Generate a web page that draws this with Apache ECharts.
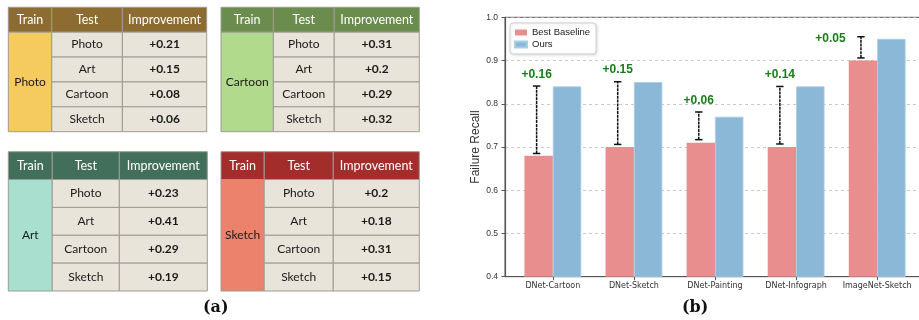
<!DOCTYPE html>
<html>
<head>
<meta charset="utf-8">
<script src="https://cdn.jsdelivr.net/npm/echarts@6/dist/echarts.min.js"></script>
<style>
  html, body { margin: 0; padding: 0; background: #fff; }
  #main { width: 919px; height: 320px; }
</style>
</head>
<body>
<div id="main"></div>
<script>
// (a) Improvement per train / test domain pair
const trainDomains = ['Photo', 'Cartoon', 'Art', 'Sketch'];
const testDomains = ['Photo', 'Art', 'Cartoon', 'Sketch'];
const tableHeaders = ['Train', 'Test', 'Improvement'];
const photoGain = [0.21, 0.15, 0.08, 0.06];
const cartoonGain = [0.31, 0.2, 0.29, 0.32];
const artGain = [0.23, 0.41, 0.29, 0.19];
const sketchGain = [0.2, 0.18, 0.31, 0.15];

// (b) Failure recall per benchmark
const benchmarks = ['DNet-Cartoon', 'DNet-Sketch', 'DNet-Painting', 'DNet-Infograph', 'ImageNet-Sketch'];
const methods = ['Best Baseline', 'Ours'];
const baselineRecall = [0.68, 0.70, 0.71, 0.70, 0.90];
const oursRecall = [0.84, 0.85, 0.77, 0.84, 0.95];
const rangeLow = [0.685, 0.706, 0.717, 0.707, 0.906];
const rangeHigh = [0.841, 0.851, 0.781, 0.840, 0.955];

// Table placement and palette
const tableLayouts = [
  { gain: photoGain,   left: 8.3, top: 7.3,   width: 198.4, height: 124.4, cols: [0, 0.219, 0.575, 1], head: '#8C6C31', train: '#F5CB5F' },
  { gain: cartoonGain, left: 221, top: 7.3,   width: 198.3, height: 124.4, cols: [0, 0.264, 0.571, 1], head: '#6A8D4E', train: '#B2DA8D' },
  { gain: artGain,     left: 8.3, top: 151.7, width: 199,   height: 139.3, cols: [0, 0.221, 0.558, 1], head: '#416F5B', train: '#A9DFCF' },
  { gain: sketchGain,  left: 221, top: 151.7, width: 198.3, height: 139.3, cols: [0, 0.218, 0.566, 1], head: '#A32D2B', train: '#EC816C' }
];
const cellFill = '#E9E4DA';
const cellStroke = '#9E9A93';
const tableFont = 'Lato, "Open Sans", sans-serif';

const grids = [], xAxes = [], yAxes = [], series = [];

tableLayouts.forEach((t, i) => {
  grids.push({ left: t.left, top: t.top, width: t.width, height: t.height, outerBoundsMode: 'none' });
  xAxes.push({ type: 'value', gridIndex: i, min: 0, max: 1, show: false });
  yAxes.push({ type: 'value', gridIndex: i, min: 0, max: 5, inverse: true, show: false });

  const cells = [];
  tableHeaders.forEach((h, c) => cells.push({ col: c, row: 0, span: 1, kind: 'head', text: h }));
  cells.push({ col: 0, row: 1, span: 4, kind: 'train', text: trainDomains[i] });
  testDomains.forEach((d, r) => {
    cells.push({ col: 1, row: r + 1, span: 1, kind: 'body', text: d });
    cells.push({ col: 2, row: r + 1, span: 1, kind: 'gain', text: '+' + t.gain[r] });
  });

  series.push({
    type: 'custom',
    xAxisIndex: i,
    yAxisIndex: i,
    silent: true,
    data: cells.map(c => [t.cols[c.col], c.row]),
    renderItem(params, api) {
      const c = cells[params.dataIndex];
      const a = api.coord([t.cols[c.col], c.row]);
      const b = api.coord([t.cols[c.col + 1], c.row + c.span]);
      const fill = c.kind === 'head' ? t.head : (c.kind === 'train' ? t.train : cellFill);
      const isHead = c.kind === 'head';
      return {
        type: 'group',
        children: [
          {
            type: 'rect',
            shape: { x: a[0], y: a[1], width: b[0] - a[0], height: b[1] - a[1] },
            style: { fill: fill, stroke: cellStroke, lineWidth: 1 }
          },
          {
            type: 'text',
            style: {
              text: c.text,
              x: (a[0] + b[0]) / 2,
              y: (a[1] + b[1]) / 2,
              align: 'center',
              verticalAlign: 'middle',
              fill: isHead ? '#ffffff' : '#1a1a1a',
              font: (c.kind === 'gain' ? 'bold ' : '') + (isHead ? '12.5px ' : '12px ') + tableFont
            }
          }
        ]
      };
    }
  });
});

// Bar chart panel
const g = tableLayouts.length;
const positions = benchmarks.map((_, i) => i);
const axisGray = '#555555';

grids.push({
  left: 505, top: 17.3, width: 420, height: 259.4,
  show: true, borderColor: axisGray, borderWidth: 1, backgroundColor: 'transparent',
  outerBoundsMode: 'none'
});
xAxes.push({
  type: 'value', gridIndex: g, min: -0.59, max: 4.59,
  splitLine: { show: false },
  axisLine: { show: true, onZero: false, lineStyle: { color: axisGray, width: 1.2 } },
  axisTick: { show: true, customValues: positions, length: 3.5, lineStyle: { color: axisGray } },
  axisLabel: {
    customValues: positions,
    formatter: v => benchmarks[Math.round(v)],
    fontFamily: '"DejaVu Sans", sans-serif', fontSize: 8, color: '#333', margin: 5
  }
});
yAxes.push({
  type: 'value', gridIndex: g, min: 0.4, max: 1.0, interval: 0.1,
  name: 'Failure Recall', nameLocation: 'middle', nameGap: 23,
  nameTextStyle: { fontFamily: '"Liberation Sans", Arial, sans-serif', fontSize: 12, color: '#333' },
  axisLine: { show: true, onZero: false, lineStyle: { color: axisGray, width: 1.2 } },
  axisTick: { show: true, length: 3.5, lineStyle: { color: axisGray } },
  axisLabel: {
    formatter: v => v.toFixed(1),
    fontFamily: '"Liberation Sans", Arial, sans-serif', fontSize: 8.5, color: '#333', margin: 7
  },
  splitLine: { show: true, lineStyle: { color: '#bdbdbd', type: [3, 3], width: 0.8 } }
});

const barWidth = 28.4;
series.push({
  name: methods[0], type: 'bar', xAxisIndex: g, yAxisIndex: g,
  data: baselineRecall.map((v, i) => [i, v]),
  barWidth: barWidth, barGap: '0%',
  itemStyle: { color: '#E88E8E' }
});
series.push({
  name: methods[1], type: 'bar', xAxisIndex: g, yAxisIndex: g,
  data: oursRecall.map((v, i) => [i, v]),
  barWidth: barWidth, barGap: '0%',
  itemStyle: { color: '#8BB8D6', borderColor: '#A9CDE4', borderWidth: 0.8 }
});

// Range markers with the gain of Ours over the best baseline
series.push({
  type: 'custom', xAxisIndex: g, yAxisIndex: g, z: 5, silent: true,
  data: benchmarks.map((_, i) => [i, rangeLow[i], rangeHigh[i]]),
  renderItem(params, api) {
    const i = api.value(0);
    const x = i - 0.2;
    const lo = api.coord([x, api.value(1)]);
    const hi = api.coord([x, api.value(2)]);
    const cap = 3.7;
    const gain = oursRecall[i] - baselineRecall[i];
    let labelY = api.value(2) + 0.027;
    let labelX = x;
    if (labelY > 0.96) { labelY = api.value(2) - 0.004; labelX = i - 0.575; }
    const lp = api.coord([labelX, labelY]);
    const ink = { stroke: '#111', lineWidth: 1.5 };
    return {
      type: 'group',
      children: [
        { type: 'line', shape: { x1: lo[0], y1: lo[1], x2: hi[0], y2: hi[1] }, style: Object.assign({ lineDash: [3, 0.8] }, ink) },
        { type: 'line', shape: { x1: lo[0] - cap, y1: lo[1], x2: lo[0] + cap, y2: lo[1] }, style: ink },
        { type: 'line', shape: { x1: hi[0] - cap, y1: hi[1], x2: hi[0] + cap, y2: hi[1] }, style: ink },
        {
          type: 'text',
          style: {
            text: '+' + gain.toFixed(2), x: lp[0], y: lp[1],
            align: 'center', verticalAlign: 'middle',
            font: 'bold 12px "Liberation Sans", Arial, sans-serif', fill: '#177E17'
          }
        }
      ]
    };
  }
});

const chart = echarts.init(document.getElementById('main'), null, { renderer: 'canvas' });
chart.setOption({
  animation: false,
  backgroundColor: '#ffffff',
  title: [
    { text: '(a)', left: 203, top: 300, padding: 0,
      textStyle: { fontFamily: '"DejaVu Serif", serif', fontWeight: 'bold', fontSize: 16, color: '#111' } },
    { text: '(b)', left: 682, top: 300, padding: 0,
      textStyle: { fontFamily: '"DejaVu Serif", serif', fontWeight: 'bold', fontSize: 16, color: '#111' } }
  ],
  legend: {
    data: methods,
    orient: 'vertical',
    left: 510, top: 23,
    itemWidth: 12, itemHeight: 6, itemGap: 1,
    icon: 'rect',
    padding: [4, 6, 4, 4],
    backgroundColor: '#ffffff',
    borderColor: '#cfcfcf', borderWidth: 1, borderRadius: 3,
    shadowColor: 'rgba(0,0,0,0.12)', shadowBlur: 3, shadowOffsetX: 1, shadowOffsetY: 1,
    textStyle: { fontFamily: '"Liberation Sans", Arial, sans-serif', fontSize: 9.5, color: '#222', lineHeight: 11 }
  },
  grid: grids,
  xAxis: xAxes,
  yAxis: yAxes,
  series: series
});
</script>
</body>
</html>
